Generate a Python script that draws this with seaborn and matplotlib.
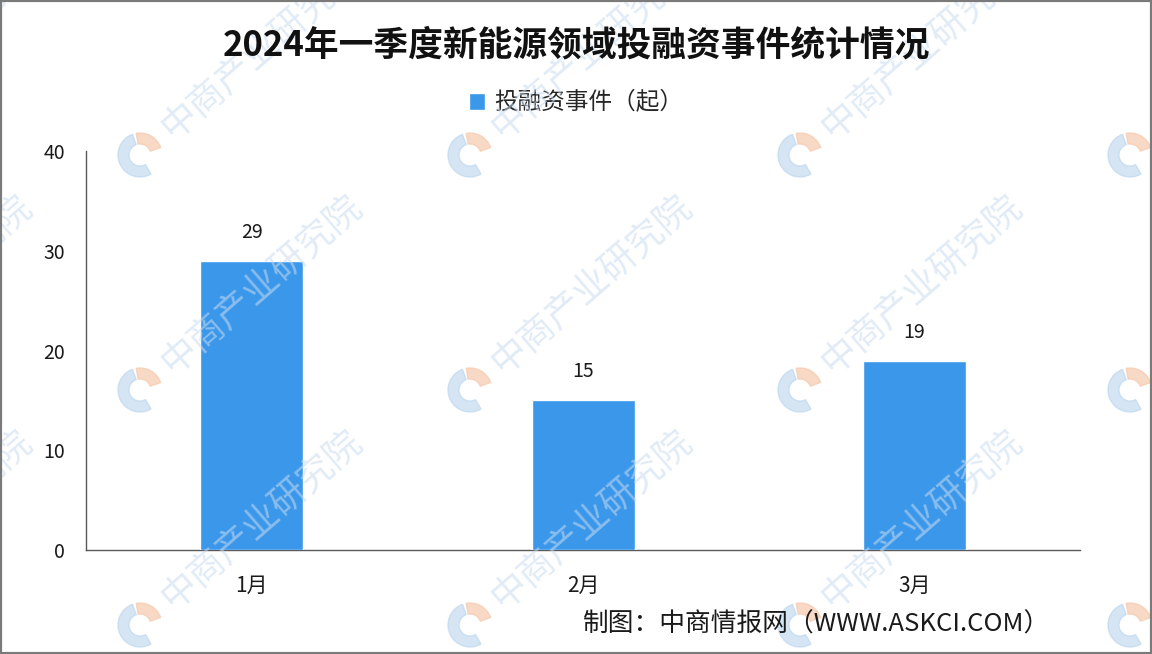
import matplotlib
matplotlib.use("Agg")
import matplotlib.pyplot as plt
from matplotlib.patches import Wedge, Rectangle
import seaborn as sns
import pandas as pd

# data
months = ["1月", "2月", "3月"]
events = [29, 15, 19]
series_name = "投融资事件（起）"
title = "2024年一季度新能源领域投融资事件统计情况"
source = "制图：中商情报网（WWW.ASKCI.COM）"
yticks = [0, 10, 20, 30, 40]

BAR_COLOR = "#3A97EA"
AXIS_COLOR = "#595959"

sns.set_style("white")
plt.rcParams["font.family"] = ["Noto Sans CJK SC", "DejaVu Sans"]

df = pd.DataFrame({"month": months, "events": events})

fig = plt.figure(figsize=(11.52, 6.54), dpi=100)
ax = fig.add_axes([0.0747, 0.159, 0.863, 0.610])

# faint "中商产业研究院" watermark grid, drawn behind the chart
for lx in [-190, 140, 470, 800, 1130]:
    for ly in [155, 390, 625]:
        cx, cy = lx / 1152, 1 - ly / 654
        fig.text(cx + 122 / 1152, cy + 105 / 654, "中商产业研究院", rotation=41,
                 fontsize=26, color="#c9dcf0", alpha=0.55, ha="center", va="center", zorder=0)
        fig.patches.append(Wedge((lx, 654 - ly), 22, 110, 300, width=11,
                                 transform=None, color="#b9d4ee", alpha=0.6, zorder=0))
        fig.patches.append(Wedge((lx, 654 - ly), 22, 20, 100, width=11,
                                 transform=None, color="#f6c9ad", alpha=0.7, zorder=0))

ax.patch.set_alpha(0)
sns.barplot(data=df, x="month", y="events", color=BAR_COLOR, width=0.31,
            saturation=1, ax=ax, label=series_name, zorder=3)

for i, v in enumerate(events):
    ax.text(i, v + 1.8, str(v), ha="center", va="bottom", fontsize=14, color="#1a1a1a")

ax.set_xlim(-0.5, 2.5)
ax.set_ylim(0, 40)
ax.set_yticks(yticks)
ax.set_xlabel("")
ax.set_ylabel("")

for side in ["top", "right"]:
    ax.spines[side].set_visible(False)
for side in ["left", "bottom"]:
    ax.spines[side].set_color(AXIS_COLOR)
    ax.spines[side].set_linewidth(1.0)

ax.tick_params(axis="y", direction="in", length=6, color=AXIS_COLOR,
               labelsize=14, pad=15, labelcolor="#1a1a1a")
ax.tick_params(axis="x", which="major", length=0, labelsize=15, pad=18, labelcolor="#1a1a1a")
ax.set_xticks([-0.5, 0.5, 1.5, 2.5], minor=True)
ax.tick_params(axis="x", which="minor", direction="in", length=6, color=AXIS_COLOR)

fig.text(0.5, 0.931, title, ha="center", va="center", fontsize=25,
         fontweight="bold", color="#111111")
ax.legend(loc="center", bbox_to_anchor=(0.5, 1 - 103 / 654), bbox_transform=fig.transFigure,
          frameon=False, fontsize=17, handlelength=0.7, handleheight=0.7,
          handletextpad=0.4)

fig.text(1050 / 1152, 1 - 625 / 654, source, ha="right", va="center",
         fontsize=18.5, color="#1a1a1a")

# grey frame around the picture
fig.patches.append(Rectangle((0, 0), 1, 1, transform=fig.transFigure, fill=False,
                             edgecolor="#7a7a7a", linewidth=3, zorder=10))

fig.savefig("out.png", dpi=100)
